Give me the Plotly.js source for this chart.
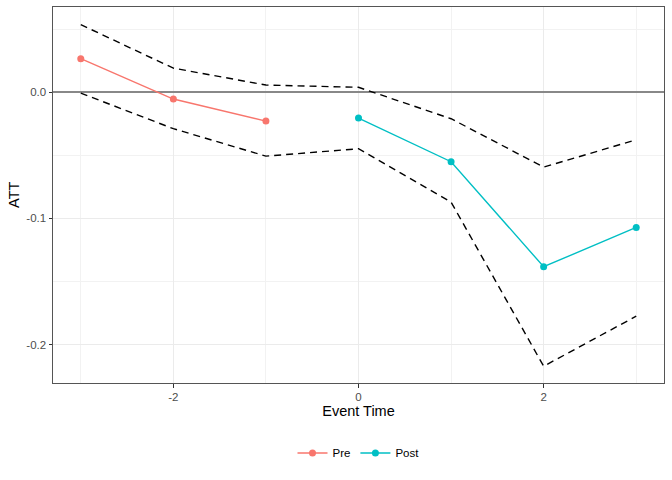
<!DOCTYPE html>
<html>
<head>
<meta charset="utf-8">
<script src="https://cdn.plot.ly/plotly-3.0.1.min.js"></script>
<style>
	body { margin: 0; background: #fff; }
	#chart { width: 672px; height: 480px; }
</style>
</head>
<body>
<div id="chart"></div>
<script>
// Event study: ATT by event time

const pre_time = [-3, -2, -1];
const pre_att = [0.0267, -0.0053, -0.0228];

const post_time = [0, 1, 2, 3];
const post_att = [-0.0204, -0.055, -0.1383, -0.1071];

const band_time = [-3, -2, -1, 0, 1, 2, 3];
const upper_ci = [0.0537, 0.0192, 0.0058, 0.004, -0.0209, -0.0593, -0.0376];
const lower_ci = [-0.0006, -0.0288, -0.0506, -0.0447, -0.087, -0.2172, -0.1775];

const x_ticks = [-2, 0, 2];
const x_tick_labels = ["-2", "0", "2"];
const y_ticks = [-0.2, -0.1, 0];
const y_tick_labels = ["-0.2", "-0.1", "0.0"];

const pre_color = "#F8766D";
const post_color = "#00BFC4";

function ciTrace(y_data) {
	return {
		x: band_time,
		y: y_data,
		type: "scatter",
		mode: "lines",
		line: { color: "#000000", width: 1.4, dash: "7px,5px" },
		showlegend: false,
		hoverinfo: "skip",
	};
}

let data = [
		ciTrace(upper_ci),
		ciTrace(lower_ci),
		{
			x: pre_time,
			y: pre_att,
			type: "scatter",
			mode: "lines+markers",
			name: "Pre",
			line: { color: pre_color, width: 1.4 },
			marker: { color: pre_color, size: 7 },
		},
		{
			x: post_time,
			y: post_att,
			type: "scatter",
			mode: "lines+markers",
			name: "Post",
			line: { color: post_color, width: 1.4 },
			marker: { color: post_color, size: 7 },
		},
	],
	layout = {
		width: 672,
		height: 480,
		paper_bgcolor: "#ffffff",
		plot_bgcolor: "#ffffff",
		font: { family: "Liberation Sans, Arial, sans-serif", color: "#000000" },
		showlegend: true,
		legend: {
			orientation: "h",
			x: 0.5,
			xanchor: "center",
			y: -0.186,
			yanchor: "middle",
			itemwidth: 30,
			font: { size: 11.5, color: "#000000" },
		},
		margin: { l: 53, r: 8, t: 7, b: 97, pad: 0 },
		xaxis: {
			range: [-3.3, 3.3],
			tickmode: "array",
			tickvals: x_ticks,
			ticktext: x_tick_labels,
			ticks: "outside",
			ticklen: 3.5,
			tickwidth: 1,
			tickcolor: "#333333",
			tickfont: { size: 11.5, color: "#4d4d4d" },
			showgrid: true,
			gridcolor: "#ebebeb",
			gridwidth: 1,
			minor: { tickmode: "linear", dtick: 1, tick0: 1, showgrid: true, gridcolor: "#f2f2f2", gridwidth: 0.6, ticks: "" },
			zeroline: false,
			showline: true,
			mirror: true,
			linecolor: "#555555",
			linewidth: 1,
			title: { text: "Event Time", font: { size: 14.5, color: "#000000" }, standoff: 3 },
		},
		yaxis: {
			range: [-0.2305, 0.0677],
			tickmode: "array",
			tickvals: y_ticks,
			ticktext: y_tick_labels,
			ticks: "outside",
			ticklen: 3.5,
			tickwidth: 1,
			tickcolor: "#333333",
			tickfont: { size: 11.5, color: "#4d4d4d" },
			showgrid: true,
			gridcolor: "#ebebeb",
			gridwidth: 1,
			minor: { tickmode: "linear", dtick: 0.05, tick0: 0.05, showgrid: true, gridcolor: "#f2f2f2", gridwidth: 0.6, ticks: "" },
			zeroline: true,
			zerolinecolor: "#888888",
			zerolinewidth: 1.5,
			showline: true,
			mirror: true,
			linecolor: "#555555",
			linewidth: 1,
		},
		annotations: [
			{
				text: "ATT",
				xref: "paper",
				yref: "paper",
				x: -0.064,
				y: 0.5,
				xanchor: "center",
				yanchor: "middle",
				textangle: -90,
				showarrow: false,
				font: { size: 14.5, color: "#000000" },
			},
		],
		hovermode: false,
	};

Plotly.newPlot("chart", data, layout, { displayModeBar: false });
</script>
</body>
</html>
